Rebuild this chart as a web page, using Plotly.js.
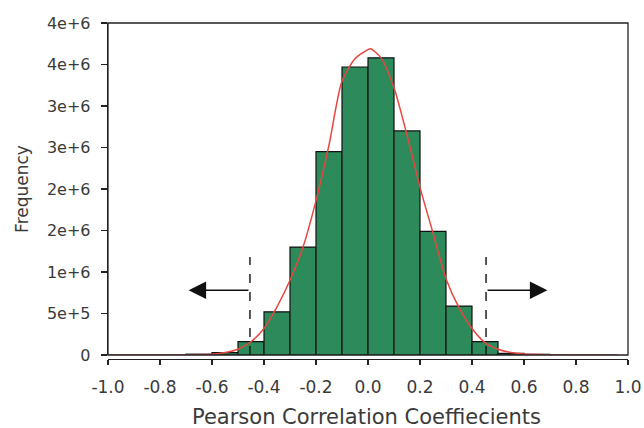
<!DOCTYPE html>
<html>
<head>
<meta charset="utf-8">
<script src="https://cdn.plot.ly/plotly-3.0.1.min.js"></script>
<style>html,body{margin:0;padding:0;background:#fff;}</style>
</head>
<body>
<div id="chart" style="width:644px;height:428px;"></div>
<script>
// Histogram bins (left edges) and frequencies
const binStart = [-0.7,-0.6,-0.5,-0.4,-0.3,-0.2,-0.1,0.0,0.1,0.2,0.3,0.4,0.5,0.6];
const binWidth = 0.1;
const frequency = [10000,28000,160000,520000,1300000,2450000,3470000,3580000,2700000,1490000,590000,160000,20000,8000];

// Fitted curve
const curveX = [-1.0,-0.8,-0.7,-0.6,-0.55,-0.5,-0.45,-0.4,-0.35,-0.3,-0.25,-0.2,-0.15,-0.1,-0.05,0.0,0.01,0.05,0.1,0.15,0.2,0.25,0.3,0.35,0.4,0.45,0.5,0.55,0.6,0.7,0.8,0.96];
const curveY = [0,0,2000,10000,30000,70000,160000,320000,580000,900000,1300000,1860000,2530000,3300000,3570000,3680000,3690000,3580000,3220000,2650000,2020000,1470000,920000,570000,320000,150000,70000,30000,12000,3000,0,0];

// Cutoffs and arrows
const cutoffX = [-0.454, 0.454];
const cutoffTop = 1180000;
const arrowTipX = [-0.69, 0.69];
const arrowY = 780000;

// Axis ticks and titles
const yTickVals = [0,500000,1000000,1500000,2000000,2500000,3000000,3500000,4000000];
const yTickText = ['0','5e+5','1e+6','2e+6','2e+6','3e+6','3e+6','4e+6','4e+6'];
const xTickVals = [-1.0,-0.8,-0.6,-0.4,-0.2,0.0,0.2,0.4,0.6,0.8,1.0];
const xTickText = ['-1.0','-0.8','-0.6','-0.4','-0.2','0.0','0.2','0.4','0.6','0.8','1.0'];
const xTitle = 'Pearson Correlation Coeffiecients';
const yTitle = 'Frequency';

const barX = binStart.map(v => v + binWidth/2);

const traces = [
  {
    type: 'bar', x: barX, y: frequency, width: binWidth,
    marker: {color: '#2d8a5b', line: {color: '#111', width: 1.2}},
    hoverinfo: 'skip'
  },
  {
    type: 'scatter', mode: 'lines', x: curveX, y: curveY,
    line: {color: '#e8473f', width: 1.5, shape: 'spline', smoothing: 0.7},
    hoverinfo: 'skip'
  }
];

const plotH = 428 - 23 - 69;
const d = 4 / plotH;

const shapes = [
  {type: 'rect', xref: 'paper', yref: 'paper', x0: 0, x1: 1, y0: d, y1: 1,
   line: {color: '#222', width: 1.3}, layer: 'above'}
];
cutoffX.forEach(cx => shapes.push({
  type: 'line', xref: 'x', yref: 'y', x0: cx, x1: cx, y0: 0, y1: cutoffTop,
  line: {color: '#111', width: 1.4, dash: 'dash'}
}));

const annotations = cutoffX.map((cx, i) => ({
  x: arrowTipX[i], y: arrowY, xref: 'x', yref: 'y',
  ax: cx, ay: arrowY, axref: 'x', ayref: 'y',
  text: '', showarrow: true, arrowhead: 2, arrowsize: 2.5, arrowwidth: 1.4, arrowcolor: '#111'
}));
annotations.push({
  text: xTitle, showarrow: false, xref: 'paper', yref: 'paper',
  x: 0.497, y: (359 - 417) / plotH, xanchor: 'center', yanchor: 'middle',
  font: {size: 21}
});

const font = {family: 'DejaVu Sans, Liberation Sans, Arial, sans-serif', color: '#3a3a3a', size: 17};

const layout = {
  width: 644, height: 428,
  margin: {l: 108, r: 16, t: 23, b: 69},
  paper_bgcolor: '#fff', plot_bgcolor: '#fff',
  showlegend: false,
  font: font,
  bargap: 0,
  xaxis: {
    range: [-1, 1], anchor: 'free', position: 0,
    tickvals: xTickVals, ticktext: xTickText,
    showline: true, linecolor: '#222', linewidth: 1.3,
    ticks: 'outside', ticklen: 5, tickcolor: '#222', tickwidth: 1.3,
    ticklabelstandoff: 7,
    showgrid: false, zeroline: false,
    tickfont: {size: 17}
  },
  yaxis: {
    range: [0, 4000000], domain: [d, 1],
    tickvals: yTickVals, ticktext: yTickText,
    showline: true, linecolor: '#222', linewidth: 1.3,
    ticks: 'outside', ticklen: 6, tickcolor: '#222', tickwidth: 1.3,
    ticklabelstandoff: 7,
    showgrid: false, zeroline: false,
    tickfont: {size: 16},
    title: {text: yTitle, font: {size: 17}, standoff: 14}
  },
  shapes: shapes,
  annotations: annotations
};

Plotly.newPlot('chart', traces, layout, {staticPlot: true, displayModeBar: false});
</script>
</body>
</html>
